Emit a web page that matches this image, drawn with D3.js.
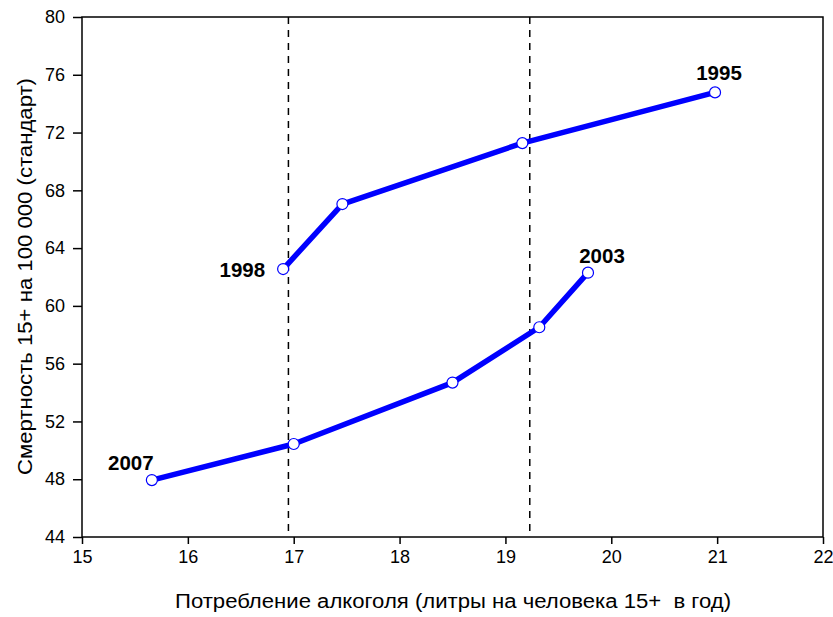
<!DOCTYPE html>
<html>
<head>
<meta charset="utf-8">
<script src="https://cdn.jsdelivr.net/npm/d3@7"></script>
<style>
  html, body { margin: 0; padding: 0; background: #fff; }
  svg { display: block; }
  text { font-family: Arial, "Liberation Sans", sans-serif; }
</style>
</head>
<body>
<svg id="chart" width="833" height="617"></svg>
<script>
// Series 1: 1995–1998
const upperYears = ["1995", "1996", "1997", "1998"];
const upperX = [20.98, 19.16, 17.46, 16.90];
const upperY = [74.78, 71.27, 67.05, 62.55];

// Series 2: 2003–2007
const lowerYears = ["2003", "2004", "2005", "2006", "2007"];
const lowerX = [19.78, 19.32, 18.50, 17.00, 15.66];
const lowerY = [62.30, 58.52, 54.69, 50.44, 47.94];

// Vertical reference lines
const refLinesX = [16.95, 19.23];

// Ticks
const xTicks = [15, 16, 17, 18, 19, 20, 21, 22];
const yTicks = [44, 48, 52, 56, 60, 64, 68, 72, 76, 80];

const labeledYears = ["1995", "1998", "2003", "2007"];

const xTitle = "Потребление алкоголя (литры на человека 15+  в год)";
const yTitle = "Смертность 15+ на 100 000 (стандарт)";

const svg = d3.select("#chart");
const L = 82, R = 823, T = 17, B = 537;

const x = d3.scaleLinear().domain([15, 22]).range([L, R]);
const y = d3.scaleLinear().domain([44, 80]).range([B, T]);

// Axes
const xAxis = svg.append("g").attr("transform", `translate(0,${B})`)
  .call(d3.axisBottom(x).tickValues(xTicks).tickSize(7).tickPadding(6).tickFormat(d3.format("d")));
const yAxis = svg.append("g").attr("transform", `translate(${L},0)`)
  .call(d3.axisLeft(y).tickValues(yTicks).tickSize(9).tickPadding(8).tickFormat(d3.format("d")));
[xAxis, yAxis].forEach(g => {
  g.attr("font-size", 18).attr("font-family", "Arial, 'Liberation Sans', sans-serif");
  g.select(".domain").remove();
  g.selectAll("line").attr("stroke", "#000").attr("stroke-width", 1.5);
  g.selectAll("text").attr("font-size", 18).attr("fill", "#000");
});

// Frame
svg.append("rect").attr("x", L).attr("y", T).attr("width", R - L).attr("height", B - T)
  .attr("fill", "none").attr("stroke", "#000").attr("stroke-width", 1.5);

// Dashed reference lines
svg.selectAll(".ref").data(refLinesX).enter().append("line")
  .attr("x1", d => x(d)).attr("x2", d => x(d))
  .attr("y1", T).attr("y2", B)
  .attr("stroke", "#000").attr("stroke-width", 1.5).attr("stroke-dasharray", "7,6");

const series = [
  { years: upperYears, xs: upperX, ys: upperY },
  { years: lowerYears, xs: lowerX, ys: lowerY }
];

const line = d3.line().x(d => x(d.x)).y(d => y(d.y));

series.forEach(s => {
  const pts = s.years.map((yr, i) => ({ year: yr, x: s.xs[i], y: s.ys[i] }));
  svg.append("path").datum(pts).attr("d", line)
    .attr("fill", "none").attr("stroke", "#0000ff").attr("stroke-width", 5.5)
    .attr("stroke-linejoin", "round");
  svg.selectAll(null).data(pts).enter().append("circle")
    .attr("cx", d => x(d.x)).attr("cy", d => y(d.y)).attr("r", 5.5)
    .attr("fill", "#fff").attr("stroke", "#0000ff").attr("stroke-width", 1.2);
  s.pts = pts;
});

// Year labels
const allPts = series[0].pts.concat(series[1].pts);
const labelOffsets = {
  "1995": { dx: 4, dy: -12, anchor: "middle" },
  "1998": { dx: -18, dy: 8, anchor: "end" },
  "2003": { dx: 14, dy: -10, anchor: "middle" },
  "2007": { dx: -21, dy: -10, anchor: "middle" }
};
allPts.filter(p => labeledYears.includes(p.year)).forEach(p => {
  const o = labelOffsets[p.year];
  svg.append("text")
    .attr("x", x(p.x) + o.dx).attr("y", y(p.y) + o.dy)
    .attr("text-anchor", o.anchor)
    .attr("font-size", 20.5).attr("font-weight", "bold").attr("fill", "#000")
    .text(p.year);
});

// Axis titles
svg.append("text").attr("x", 453).attr("y", 608)
  .attr("text-anchor", "middle").attr("font-size", 20).attr("fill", "#000")
  .style("white-space", "pre")
  .attr("textLength", 556).attr("lengthAdjust", "spacingAndGlyphs")
  .text(xTitle);
svg.append("text")
  .attr("transform", `translate(32,276.5) rotate(-90)`)
  .attr("text-anchor", "middle").attr("font-size", 20).attr("fill", "#000")
  .attr("textLength", 397).attr("lengthAdjust", "spacingAndGlyphs")
  .text(yTitle);
</script>
</body>
</html>
